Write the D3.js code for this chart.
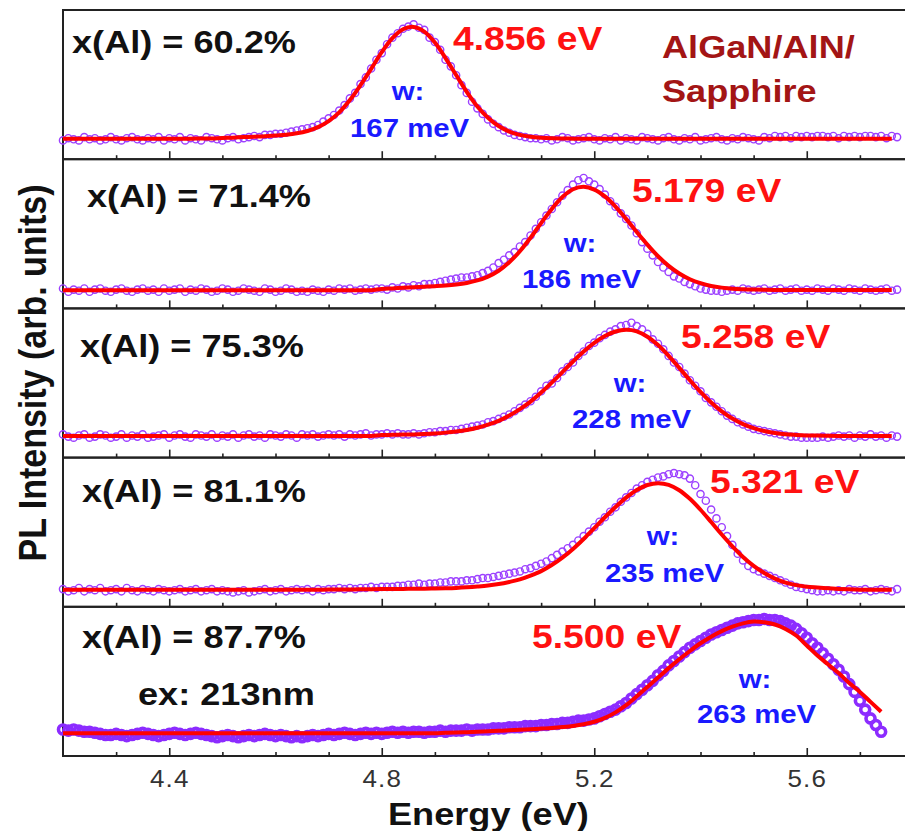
<!DOCTYPE html>
<html lang="en">
<head>
<meta charset="UTF-8">
<title>AlGaN PL spectra</title>
<script src="https://cdn.jsdelivr.net/npm/d3@7"></script>
<style>
  body { margin: 0; background: #fff; }
  text { font-family: "Liberation Sans", Arial, sans-serif; font-weight: bold; }
  .tick text { font-weight: normal; }
</style>
</head>
<body>
<script>
// energy grid of the fit curves (eV)
var fitEnergy = [4.20,4.22,4.24,4.26,4.28,4.30,4.32,4.34,4.36,4.38,
  4.40,4.42,4.44,4.46,4.48,4.50,4.52,4.54,4.56,4.58,
  4.60,4.62,4.64,4.66,4.68,4.70,4.72,4.74,4.76,4.78,
  4.80,4.82,4.84,4.86,4.88,4.90,4.92,4.94,4.96,4.98,
  5.00,5.02,5.04,5.06,5.08,5.10,5.12,5.14,5.16,5.18,
  5.20,5.22,5.24,5.26,5.28,5.30,5.32,5.34,5.36,5.38,
  5.40,5.42,5.44,5.46,5.48,5.50,5.52,5.54,5.56,5.58,
  5.60,5.62,5.64,5.66,5.68,5.70,5.72,5.74,5.76];

// energy of the measured points (eV)
var pointEnergy = [4.20,4.21,4.22,4.23,4.24,4.25,4.26,4.27,4.28,4.29,
  4.30,4.31,4.32,4.33,4.34,4.35,4.36,4.37,4.38,4.39,
  4.40,4.41,4.42,4.43,4.44,4.45,4.46,4.47,4.48,4.49,
  4.50,4.51,4.52,4.53,4.54,4.55,4.56,4.57,4.58,4.59,
  4.60,4.61,4.62,4.63,4.64,4.65,4.66,4.67,4.68,4.69,
  4.70,4.71,4.72,4.73,4.74,4.75,4.76,4.77,4.78,4.79,
  4.80,4.81,4.82,4.83,4.84,4.85,4.86,4.87,4.88,4.89,
  4.90,4.91,4.92,4.93,4.94,4.95,4.96,4.97,4.98,4.99,
  5.00,5.01,5.02,5.03,5.04,5.05,5.06,5.07,5.08,5.09,
  5.10,5.11,5.12,5.13,5.14,5.15,5.16,5.17,5.18,5.19,
  5.20,5.21,5.22,5.23,5.24,5.25,5.26,5.27,5.28,5.29,
  5.30,5.31,5.32,5.33,5.34,5.35,5.36,5.37,5.38,5.39,
  5.40,5.41,5.42,5.43,5.44,5.45,5.46,5.47,5.48,5.49,
  5.50,5.51,5.52,5.53,5.54,5.55,5.56,5.57,5.58,5.59,
  5.60,5.61,5.62,5.63,5.64,5.65,5.66,5.67,5.68,5.69,
  5.70,5.71,5.72,5.73,5.74,5.75,5.76,5.77];

// gaussian fits (normalised PL intensity)
var fit602 = [-0.015,-0.015,-0.015,-0.015,-0.015,-0.015,-0.015,-0.015,-0.015,-0.015,
  -0.015,-0.015,-0.014,-0.013,-0.012,-0.008,-0.005,0.000,0.004,0.008,
  0.015,0.022,0.034,0.055,0.090,0.145,0.224,0.335,0.470,0.617,
  0.768,0.895,0.976,0.997,0.955,0.855,0.715,0.562,0.410,0.277,
  0.175,0.100,0.050,0.020,0.003,-0.006,-0.011,-0.013,-0.014,-0.015,
  -0.015,-0.015,-0.015,-0.015,-0.015,-0.015,-0.015,-0.015,-0.015,-0.015,
  -0.015,-0.015,-0.015,-0.015,-0.015,-0.015,-0.015,-0.015,-0.015,-0.015,
  -0.015,-0.015,-0.015,-0.015,-0.015,-0.015,-0.015,-0.015,-0.015];
var fit714 = [-0.035,-0.035,-0.035,-0.035,-0.035,-0.035,-0.035,-0.035,-0.035,-0.035,
  -0.035,-0.035,-0.035,-0.035,-0.035,-0.035,-0.035,-0.035,-0.035,-0.035,
  -0.035,-0.035,-0.035,-0.035,-0.035,-0.035,-0.035,-0.035,-0.035,-0.035,
  -0.024,-0.019,-0.014,-0.009,-0.004,0.001,0.007,0.016,0.030,0.053,
  0.088,0.141,0.218,0.317,0.439,0.572,0.700,0.808,0.878,0.900,
  0.875,0.813,0.721,0.610,0.491,0.377,0.272,0.185,0.116,0.064,
  0.028,0.003,-0.012,-0.022,-0.027,-0.030,-0.032,-0.033,-0.033,-0.033,
  -0.033,-0.033,-0.033,-0.033,-0.033,-0.033,-0.033,-0.033,-0.033];
var fit753 = [-0.004,-0.004,-0.004,-0.004,-0.004,-0.004,-0.004,-0.004,-0.004,-0.004,
  -0.004,-0.004,-0.004,-0.004,-0.004,-0.004,-0.004,-0.004,-0.004,-0.004,
  -0.004,-0.004,-0.004,-0.004,-0.004,-0.004,-0.004,-0.004,-0.004,-0.004,
  0.004,0.006,0.008,0.010,0.014,0.019,0.026,0.036,0.050,0.070,
  0.098,0.133,0.180,0.238,0.306,0.388,0.478,0.574,0.669,0.759,
  0.838,0.900,0.941,0.956,0.942,0.894,0.818,0.721,0.612,0.500,
  0.394,0.298,0.218,0.153,0.103,0.066,0.040,0.023,0.011,0.005,
  0.001,-0.001,-0.003,-0.004,-0.004,-0.004,-0.004,-0.004,-0.004];
var fit811 = [-0.046,-0.046,-0.046,-0.046,-0.046,-0.046,-0.046,-0.046,-0.046,-0.046,
  -0.046,-0.046,-0.046,-0.046,-0.046,-0.046,-0.046,-0.046,-0.046,-0.046,
  -0.046,-0.046,-0.046,-0.045,-0.045,-0.044,-0.043,-0.043,-0.042,-0.041,
  -0.040,-0.039,-0.038,-0.037,-0.036,-0.034,-0.032,-0.029,-0.024,-0.017,
  -0.008,0.006,0.025,0.048,0.082,0.123,0.178,0.245,0.324,0.414,
  0.511,0.610,0.703,0.788,0.857,0.902,0.919,0.904,0.855,0.777,
  0.678,0.567,0.454,0.347,0.251,0.170,0.105,0.055,0.019,-0.004,
  -0.018,-0.026,-0.033,-0.038,-0.042,-0.045,-0.046,-0.046,-0.046];
var fit877 = [0.006,0.006,0.006,0.006,0.006,0.006,0.006,0.006,0.006,0.006,
  0.006,0.006,0.006,0.006,0.006,0.006,0.006,0.006,0.006,0.006,
  0.006,0.006,0.006,0.006,0.006,0.006,0.006,0.006,0.006,0.006,
  0.006,0.006,0.006,0.006,0.006,0.006,0.010,0.013,0.016,0.020,
  0.024,0.028,0.032,0.037,0.042,0.048,0.054,0.062,0.072,0.087,
  0.110,0.145,0.195,0.260,0.340,0.425,0.510,0.595,0.675,0.750,
  0.820,0.880,0.930,0.970,1.000,1.016,1.010,0.990,0.950,0.890,
  0.800,0.710,0.630,0.550,0.460,0.380,0.290,0.200,null];

// measured PL intensity (open symbols)
var pts602 = [-0.03,-0.01,-0.02,-0.03,0.00,-0.02,-0.01,-0.03,-0.02,0.00,
  -0.02,-0.03,-0.01,0.00,-0.02,-0.03,-0.01,-0.02,0.00,-0.03,
  -0.01,-0.02,0.00,-0.03,-0.01,-0.02,-0.03,0.00,-0.01,-0.02,
  -0.03,-0.01,0.00,-0.02,-0.01,0.00,0.01,0.00,0.02,0.02,
  0.03,0.03,0.04,0.05,0.06,0.07,0.08,0.09,0.11,0.14,
  0.17,0.20,0.24,0.29,0.35,0.40,0.48,0.54,0.62,0.70,
  0.76,0.84,0.90,0.94,0.98,1.00,1.02,0.99,0.97,0.90,
  0.86,0.79,0.70,0.64,0.56,0.47,0.40,0.32,0.26,0.21,
  0.16,0.12,0.09,0.06,0.04,0.02,0.01,0.00,-0.01,-0.01,
  -0.02,-0.01,-0.03,-0.02,0.00,-0.01,-0.03,-0.02,-0.01,0.00,
  -0.02,-0.03,-0.01,-0.02,0.00,-0.03,-0.01,-0.02,-0.03,0.00,
  -0.01,-0.02,-0.03,-0.01,0.00,-0.02,-0.03,-0.01,-0.02,0.00,
  -0.03,-0.02,-0.01,0.00,-0.02,-0.03,-0.01,-0.02,0.00,-0.01,
  -0.02,-0.03,0.00,-0.01,0.01,0.00,0.01,-0.01,0.01,0.00,
  0.01,0.00,0.01,0.01,0.00,0.01,-0.01,0.01,0.00,0.01,
  0.00,0.01,0.01,0.00,0.01,-0.01,0.01,0.00];
var pts714 = [-0.02,-0.05,-0.03,-0.04,-0.02,-0.05,-0.03,-0.02,-0.04,-0.05,
  -0.03,-0.02,-0.04,-0.05,-0.03,-0.02,-0.04,-0.03,-0.05,-0.02,
  -0.04,-0.03,-0.02,-0.05,-0.03,-0.04,-0.02,-0.03,-0.05,-0.04,
  -0.02,-0.03,-0.05,-0.04,-0.02,-0.03,-0.04,-0.05,-0.02,-0.03,
  -0.05,-0.04,-0.02,-0.03,-0.05,-0.04,-0.05,-0.03,-0.04,-0.05,
  -0.03,-0.04,-0.02,-0.03,-0.02,-0.04,-0.03,-0.02,-0.03,-0.02,
  -0.02,-0.03,-0.01,-0.02,0.00,-0.01,0.01,0.00,0.02,0.02,
  0.03,0.04,0.05,0.06,0.07,0.08,0.08,0.09,0.10,0.12,
  0.14,0.17,0.21,0.24,0.28,0.31,0.36,0.40,0.46,0.52,
  0.58,0.64,0.70,0.76,0.82,0.87,0.92,0.96,0.98,0.95,
  0.92,0.88,0.83,0.77,0.72,0.66,0.61,0.55,0.48,0.40,
  0.34,0.28,0.22,0.17,0.13,0.09,0.07,0.04,0.02,0.00,
  -0.02,-0.03,-0.04,-0.04,-0.05,-0.04,-0.03,-0.04,-0.02,-0.03,
  -0.04,-0.03,-0.02,-0.04,-0.03,-0.02,-0.04,-0.03,-0.02,-0.04,
  -0.03,-0.04,-0.02,-0.03,-0.04,-0.02,-0.03,-0.04,-0.02,-0.03,
  -0.04,-0.02,-0.03,-0.04,-0.03,-0.02,-0.04,-0.03];
var pts753 = [0.01,-0.01,-0.02,0.00,0.01,-0.02,-0.01,0.01,0.00,-0.02,
  -0.01,0.01,-0.02,0.00,-0.01,0.01,-0.02,-0.01,0.00,0.01,
  -0.02,0.00,0.01,-0.01,-0.02,0.01,0.00,-0.01,0.01,-0.02,
  0.00,-0.01,0.01,-0.02,0.00,0.01,-0.01,0.00,-0.02,0.01,
  0.00,-0.01,0.01,0.00,-0.02,0.01,0.00,0.01,-0.01,0.00,
  0.01,0.00,0.01,-0.01,0.01,0.00,0.01,0.02,0.00,0.01,
  0.01,0.02,0.01,0.02,0.01,0.01,0.02,0.01,0.02,0.03,
  0.03,0.04,0.04,0.05,0.05,0.06,0.07,0.08,0.09,0.10,
  0.12,0.13,0.15,0.17,0.19,0.22,0.25,0.28,0.31,0.35,
  0.40,0.45,0.47,0.52,0.58,0.62,0.66,0.72,0.76,0.81,
  0.84,0.88,0.91,0.94,0.96,0.99,1.00,1.02,0.99,0.96,
  0.92,0.87,0.83,0.78,0.72,0.66,0.62,0.56,0.50,0.45,
  0.40,0.34,0.30,0.26,0.22,0.18,0.15,0.12,0.10,0.08,
  0.06,0.05,0.04,0.03,0.02,0.01,0.00,-0.01,-0.01,-0.02,
  -0.02,-0.02,-0.02,-0.01,-0.02,-0.01,0.00,-0.01,0.00,-0.02,
  0.00,-0.01,0.01,-0.01,0.00,-0.02,0.00,-0.01];
var pts811 = [-0.04,-0.06,-0.05,-0.03,-0.06,-0.04,-0.05,-0.03,-0.06,-0.05,
  -0.04,-0.06,-0.03,-0.05,-0.06,-0.04,-0.05,-0.06,-0.04,-0.05,
  -0.06,-0.05,-0.04,-0.06,-0.05,-0.04,-0.06,-0.05,-0.04,-0.06,
  -0.05,-0.06,-0.07,-0.06,-0.05,-0.07,-0.06,-0.05,-0.04,-0.06,
  -0.05,-0.04,-0.06,-0.05,-0.04,-0.05,-0.04,-0.06,-0.04,-0.05,
  -0.04,-0.04,-0.03,-0.04,-0.03,-0.04,-0.03,-0.03,-0.02,-0.03,
  -0.02,-0.02,-0.02,-0.01,-0.01,0.00,0.00,0.01,0.00,0.01,
  0.01,0.02,0.02,0.03,0.03,0.03,0.04,0.04,0.05,0.06,
  0.06,0.07,0.08,0.09,0.10,0.11,0.12,0.14,0.15,0.17,
  0.19,0.21,0.24,0.27,0.30,0.33,0.36,0.40,0.44,0.48,
  0.52,0.57,0.61,0.66,0.70,0.75,0.79,0.83,0.87,0.90,
  0.93,0.95,0.97,0.98,1.00,1.01,1.00,0.99,0.96,0.90,
  0.82,0.76,0.68,0.60,0.52,0.44,0.36,0.28,0.22,0.17,
  0.14,0.12,0.10,0.08,0.06,0.04,0.02,0.00,-0.02,-0.03,
  -0.04,-0.05,-0.06,-0.06,-0.05,-0.06,-0.05,-0.06,-0.04,-0.05,
  -0.05,-0.04,-0.06,-0.05,-0.04,-0.05,-0.06,-0.04];
var pts877 = [0.04,0.03,0.04,0.03,0.02,0.02,0.01,0.00,-0.01,-0.01,
  0.00,-0.01,-0.02,-0.01,0.00,0.01,0.00,-0.01,-0.02,-0.01,
  0.00,0.01,0.00,-0.01,0.00,0.01,0.00,-0.01,-0.02,-0.03,
  -0.02,-0.01,-0.02,-0.03,-0.02,-0.01,-0.02,-0.01,0.00,-0.01,
  -0.02,-0.01,-0.02,-0.03,-0.02,-0.03,-0.02,-0.01,-0.02,-0.01,
  0.00,-0.01,0.00,0.01,0.00,-0.01,0.00,0.01,0.00,0.01,
  0.00,0.01,0.02,0.01,0.02,0.01,0.02,0.02,0.01,0.02,
  0.02,0.03,0.02,0.03,0.03,0.03,0.04,0.03,0.04,0.04,
  0.04,0.05,0.05,0.05,0.06,0.06,0.06,0.07,0.07,0.07,
  0.08,0.08,0.09,0.09,0.10,0.10,0.11,0.12,0.12,0.13,
  0.14,0.16,0.18,0.20,0.22,0.25,0.28,0.32,0.36,0.40,
  0.44,0.48,0.53,0.57,0.62,0.66,0.70,0.74,0.78,0.81,
  0.84,0.87,0.90,0.92,0.94,0.96,0.98,1.00,1.01,1.02,
  1.03,1.03,1.04,1.03,1.03,1.02,1.00,0.98,0.95,0.91,
  0.87,0.82,0.78,0.73,0.68,0.63,0.58,0.52,0.45,0.38,
  0.30,0.22,0.14,0.08,0.02,null,null,null];

var fits = [fit602, fit714, fit753, fit811, fit877];
var points = [pts602, pts714, pts753, pts811, pts877];
var compositions = ["x(Al) = 60.2%", "x(Al) = 71.4%", "x(Al) = 75.3%", "x(Al) = 81.1%", "x(Al) = 87.7%"];
var peakLabels = ["4.856 eV", "5.179 eV", "5.258 eV", "5.321 eV", "5.500 eV"];
var widthLabels = ["167 meV", "186 meV", "228 meV", "235 meV", "263 meV"];
var majorTicks = [4.4, 4.8, 5.2, 5.6];
var minorTicks = [4.3, 4.5, 4.6, 4.7, 4.9, 5.0, 5.1, 5.3, 5.4, 5.5, 5.7];

// label placement (left x, baseline y) per panel
var compPos = [[72, 53], [87, 207], [80, 357], [82, 502], [82, 648]];
var peakPos = [[453, 50], [632, 202], [681, 348], [710, 493], [532, 648]];
var wPos = [[408, 100], [580, 252], [630, 392], [663, 545], [755, 688]];
var meVPos = [[350, 137], [522, 288], [572, 428], [605, 582], [697, 723]];

var width = 905, height = 831;
var stretch = 1.13; // the original figure is slightly wider than tall
var left = 63, panelTop = 10, panelH = 149.2;

var svg = d3.select("body").append("svg").attr("width", width).attr("height", height);
var x = d3.scaleLinear().domain([4.2, 5.79]).range([left, 907.7]);

function label(str, px, py, size, color, anchor) {
    return svg.append("text")
        .attr("transform", "translate(" + px + "," + py + ") scale(" + stretch + ",1)")
        .attr("font-size", size)
        .attr("fill", color)
        .attr("text-anchor", anchor || "start")
        .text(str);
}

fits.forEach(function (fit, i) {
    var top = panelTop + i * panelH;
    var y = d3.scaleLinear().domain([-0.2, 1.15]).range([top + panelH, top]);
    var g = svg.append("g");
    var last = i === 4;

    // frame
    g.append("rect")
        .attr("x", left).attr("y", top)
        .attr("width", 908 - left).attr("height", panelH)
        .attr("fill", "none").attr("stroke", "#222").attr("stroke-width", 2);

    // measured points
    var pts = pointEnergy.map(function (e, k) { return [e, points[i][k]]; })
        .filter(function (d) { return d[1] !== null; });
    g.selectAll("circle").data(pts).enter().append("circle")
        .attr("cx", function (d) { return x(d[0]); })
        .attr("cy", function (d) { return y(d[1]); })
        .attr("r", last ? 4.5 : 3.6)
        .attr("fill", "none")
        .attr("stroke", last ? "#8c2cff" : "#9c40ff")
        .attr("stroke-width", last ? 3.6 : 1.4);

    // fit
    var line = d3.line()
        .defined(function (d) { return d[1] !== null; })
        .x(function (d) { return x(d[0]); })
        .y(function (d) { return y(d[1]); })
        .curve(d3.curveCatmullRom);
    g.append("path")
        .datum(fitEnergy.map(function (e, k) { return [e, fit[k]]; }))
        .attr("d", line)
        .attr("fill", "none").attr("stroke", "#ff0000").attr("stroke-width", 4);

    // inward ticks on the bottom edge
    var ax = g.append("g").attr("transform", "translate(0," + (top + panelH) + ")")
        .call(d3.axisBottom(x).tickValues(majorTicks).tickSize(-8)
            .tickFormat(last ? d3.format(".1f") : ""));
    ax.select(".domain").remove();
    ax.selectAll("line").attr("stroke", "#222").attr("stroke-width", 1.6);
    ax.selectAll("text")
        .attr("y", 31).attr("dy", null)
        .attr("transform", "scale(" + stretch + ",1)")
        .attr("font-size", 23)
        .attr("letter-spacing", 1).attr("fill", "#333");
    var mn = g.append("g").attr("transform", "translate(0," + (top + panelH) + ")")
        .call(d3.axisBottom(x).tickValues(minorTicks).tickSize(-4).tickFormat(""));
    mn.select(".domain").remove();
    mn.selectAll("line").attr("stroke", "#222").attr("stroke-width", 1.6);

    // annotations
    label(compositions[i], compPos[i][0], compPos[i][1], 32, "#111");
    label(peakLabels[i], peakPos[i][0], peakPos[i][1], 33, "#ff1111");
    label("w:", wPos[i][0], wPos[i][1], 26, "#1a1aff", "middle");
    label(widthLabels[i], meVPos[i][0], meVPos[i][1], 26, "#1a1aff");
});

label("ex: 213nm", 138, 705, 32, "#111");
label("AlGaN/AlN/", 662, 58, 32, "#a31515");
label("Sapphire", 662, 102, 32, "#a31515");
label("Energy (eV)", 388, 825, 32, "#111");

svg.append("text")
    .attr("transform", "translate(46,373) scale(" + stretch + ",1) rotate(-90)")
    .attr("font-size", 34)
    .attr("fill", "#111")
    .attr("text-anchor", "middle")
    .text("PL Intensity (arb. units)");
</script>
</body>
</html>
